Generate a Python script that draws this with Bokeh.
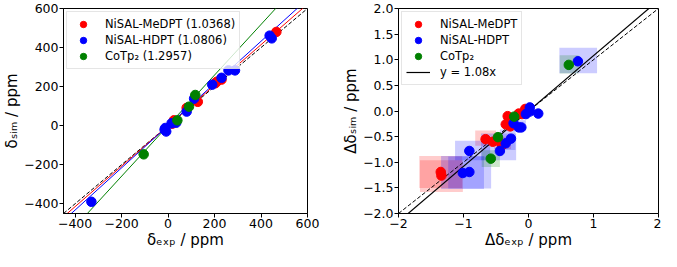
from bokeh.plotting import figure
from bokeh.layouts import row
from bokeh.models import FixedTicker, Legend, LegendItem
from bokeh.embed import file_html
from bokeh.resources import INLINE

# ---------------- Left panel data ----------------
me_exp = [466, 203, 210, 230, 128, 80, 25, 18]
me_sim = [480, 217, 225, 236, 122, 91, 27, 10]
hd_exp = [-330, -12, -8, -15, 15, 35, 80, 112, 190, 230, 260, 288, 437, 446]
hd_sim = [-390, -12, -30, -20, 12, 15, 72, 138, 210, 245, 283, 283, 461, 447]
co_exp = [-105, 40, 90, 117]
co_sim = [-147, 27, 97, 157]
fit_slopes = [1.0368, 1.0806, 1.2957]
left_labels = ["NiSAL-MeDPT (1.0368)", "NiSAL-HDPT (1.0806)", "CoTp\u2082 (1.2957)"]
left_lim = [-450, 600]
left_ticks = [-400, -200, 0, 200, 400, 600]

# ---------------- Right panel data ----------------
me_dx = [-1.35, -1.34, -0.66, -0.55, -0.42, -0.40, -0.35, -0.32, -0.28, -0.15, -0.10, -0.05]
me_dy = [-1.19, -1.26, -0.55, -0.60, -0.64, -0.66, -0.26, -0.10, -0.30, -0.05, -0.06, 0.04]
hd_dx = [-0.91, -1.01, -0.91, -0.44, -0.35, -0.27, -0.23, -0.15, -0.11, -0.04, 0.02, 0.02, 0.15, 0.76]
hd_dy = [-0.78, -1.21, -1.19, -0.78, -0.63, -0.54, -0.24, -0.32, -0.32, -0.06, 0.07, -0.01, -0.05, 0.97]
co_dx = [-0.58, -0.47, -0.22, 0.62]
co_dy = [-0.93, -0.51, -0.11, 0.90]
# uncertainty boxes: centre x, centre y, half width, half height
me_box_x = [-1.35, -1.34, -0.66, -0.40]
me_box_y = [-1.19, -1.27, -0.53, -0.62]
me_box_hw = [0.33, 0.33, 0.16, 0.13]
me_box_hh = [0.31, 0.31, 0.15, 0.12]
hd_box_x = [0.765, -1.015, -0.905, -0.86, -0.46, -0.15, -0.32]
hd_box_y = [0.985, -1.20, -1.20, -0.77, -0.70, -0.28, -0.56]
hd_box_hw = [0.29, 0.33, 0.33, 0.27, 0.27, 0.11, 0.12]
hd_box_hh = [0.25, 0.32, 0.31, 0.19, 0.26, 0.10, 0.20]
co_box_x = [0.625, -0.58]
co_box_y = [0.91, -0.93]
co_box_hw = [0.145, 0.14]
co_box_hh = [0.18, 0.165]
fit_slope_all = 1.08
right_labels = ["NiSAL-MeDPT", "NiSAL-HDPT", "CoTp\u2082", "y = 1.08x"]
right_lim = [-2, 2]
right_xticks = [-2, -1, 0, 1, 2]
right_yticks = [-2.0, -1.5, -1.0, -0.5, 0.0, 0.5, 1.0, 1.5, 2.0]

colors = ["#ff0000", "#0000ff", "#008000"]
FONT = "DejaVu Sans"


def fmt(v, dec=0):
    s = f"{v:.{dec}f}" if dec else f"{int(v)}"
    return s.replace("-", "\u2212")


def style(p, xticks, yticks, xdec, ydec, xlabel, ylabel):
    p.xaxis.ticker = FixedTicker(ticks=xticks)
    p.yaxis.ticker = FixedTicker(ticks=yticks)
    p.xaxis.major_label_overrides = {v: fmt(v, xdec) for v in xticks}
    p.yaxis.major_label_overrides = {v: fmt(v, ydec) for v in yticks}
    p.xgrid.visible = False
    p.ygrid.visible = False
    p.outline_line_color = "black"
    p.outline_line_width = 1
    p.outline_line_alpha = 1
    for ax in (p.xaxis[0], p.yaxis[0]):
        ax.major_tick_in = 0
        ax.major_tick_out = 4
        ax.minor_tick_in = 0
        ax.minor_tick_out = 0
        ax.axis_line_color = "black"
        ax.major_tick_line_color = "black"
        ax.major_label_text_font = FONT
        ax.major_label_text_font_size = "12.5px"
        ax.major_label_text_color = "black"
        ax.axis_label_text_font = FONT
        ax.axis_label_text_font_size = "15px"
        ax.axis_label_text_font_style = "normal"
        ax.axis_label_text_color = "black"
        ax.major_label_standoff = 1
        ax.axis_label_standoff = 0
    p.xaxis.axis_label = xlabel
    p.yaxis.axis_label = ylabel


# ---------------- Left figure ----------------
p1 = figure(width=329, height=251, x_range=tuple(left_lim), y_range=tuple(left_lim),
            output_backend="svg", toolbar_location=None,
            min_border_left=0, min_border_right=22, min_border_top=8, min_border_bottom=0)
style(p1, left_ticks, left_ticks, 0, 0,
      "\u03b4\u2091\u2093\u209a / ppm", "\u03b4\u209b\u1d62\u2098 / ppm")

p1.line(left_lim, left_lim, line_color="black", line_dash="4 2", line_width=1)
for s, c in zip(fit_slopes, colors):
    p1.line(left_lim, [s * v for v in left_lim], line_color=c, line_width=1)

r1 = p1.scatter(me_exp, me_sim, size=9.5, color=colors[0])
r2 = p1.scatter(hd_exp, hd_sim, size=9.5, color=colors[1])
r3 = p1.scatter(co_exp, co_sim, size=9.5, color=colors[2])

leg1 = Legend(items=[LegendItem(label=l, renderers=[r]) for l, r in zip(left_labels, [r1, r2, r3])],
              location="top_left")
p1.add_layout(leg1)

# ---------------- Right figure ----------------
p2 = figure(width=332, height=251, x_range=tuple(right_lim), y_range=tuple(right_lim),
            output_backend="svg", toolbar_location=None,
            min_border_left=69, min_border_right=3, min_border_top=8, min_border_bottom=0)
style(p2, right_xticks, right_yticks, 0, 1,
      "\u0394\u03b4\u2091\u2093\u209a / ppm", "\u0394\u03b4\u209b\u1d62\u2098 / ppm")

for bx, by, bw, bh, c in [(me_box_x, me_box_y, me_box_hw, me_box_hh, colors[0]),
                          (hd_box_x, hd_box_y, hd_box_hw, hd_box_hh, colors[1]),
                          (co_box_x, co_box_y, co_box_hw, co_box_hh, colors[2])]:
    p2.quad(left=[x - w for x, w in zip(bx, bw)], right=[x + w for x, w in zip(bx, bw)],
            bottom=[y - h for y, h in zip(by, bh)], top=[y + h for y, h in zip(by, bh)],
            fill_color=c, fill_alpha=0.2, line_color=None)

p2.line(right_lim, right_lim, line_color="black", line_dash="4 2", line_width=1)
rl = p2.line(right_lim, [fit_slope_all * v for v in right_lim], line_color="black", line_width=1.2)

q1 = p2.scatter(me_dx, me_dy, size=9.5, color=colors[0])
q2 = p2.scatter(hd_dx, hd_dy, size=9.5, color=colors[1])
q3 = p2.scatter(co_dx, co_dy, size=9.5, color=colors[2])

leg2 = Legend(items=[LegendItem(label=l, renderers=[r]) for l, r in zip(right_labels, [q1, q2, q3, rl])],
              location="top_left")
p2.add_layout(leg2)

for leg in (leg1, leg2):
    leg.label_text_font = FONT
    leg.label_text_font_size = "11.5px"
    leg.label_text_color = "black"
    leg.border_line_color = "#cccccc"
    leg.border_line_width = 1
    leg.background_fill_alpha = 0.8
    leg.margin = 3
    leg.padding = 4
    leg.spacing = 0
    leg.glyph_height = 16
    leg.label_height = 16
    leg.glyph_width = 24
    leg.label_standoff = 10

layout = row(p1, p2)
open("out.html", "w").write(file_html(layout, INLINE))
